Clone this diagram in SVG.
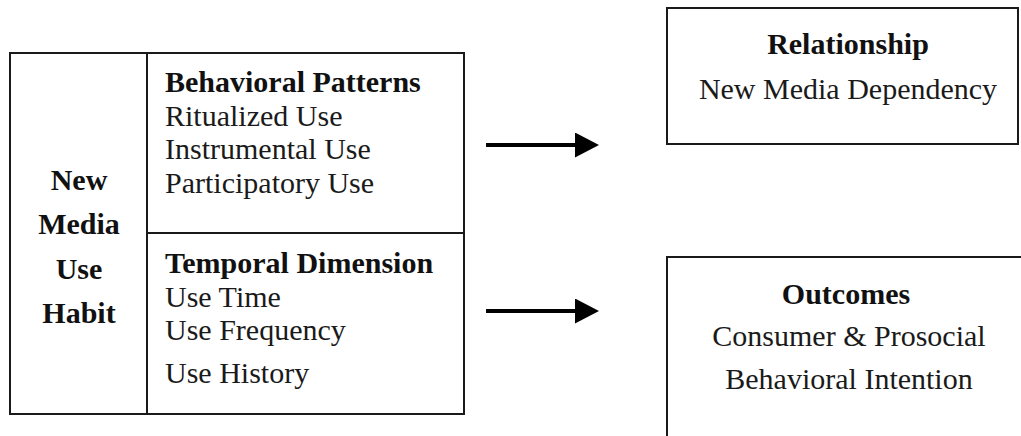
<svg xmlns="http://www.w3.org/2000/svg" width="1021" height="436" viewBox="0 0 1021 436">
  <defs>
    <style>
      .box { fill: #ffffff; stroke: #1a1a1a; stroke-width: 2; }
      .div { stroke: #1a1a1a; stroke-width: 2; fill: none; }
      .t { font-family: "Liberation Serif", "Times New Roman", serif; font-size: 30px; fill: #1a1a1a; }
      .b { font-weight: bold; fill: #111111; }
      .c { text-anchor: middle; }
      .conn { stroke: #000000; stroke-width: 4; fill: none; }
    </style>
    <marker id="arrowhead" markerUnits="userSpaceOnUse" markerWidth="24" markerHeight="25" refX="3" refY="12.5" orient="auto">
      <path d="M0,0 L24,12.5 L0,25 z" fill="#000000"/>
    </marker>
  </defs>
  <rect width="1021" height="436" fill="#ffffff"/>

  <!-- habit construct with its two dimension panels -->
  <g id="habit">
    <rect class="box" x="10" y="53" width="454" height="361"/>
    <line class="div" x1="147" y1="53" x2="147" y2="414"/>
    <line class="div" x1="147" y1="233" x2="464" y2="233"/>
    <text class="t b c" x="79" y="190">New</text>
    <text class="t b c" x="79" y="234">Media</text>
    <text class="t b c" x="79" y="279">Use</text>
    <text class="t b c" x="79" y="323">Habit</text>
  </g>

  <g id="behavioral-patterns">
    <text class="t b" x="165" y="92">Behavioral Patterns</text>
    <text class="t" x="165" y="126">Ritualized Use</text>
    <text class="t" x="165" y="159">Instrumental Use</text>
    <text class="t" x="165" y="193">Participatory Use</text>
  </g>

  <g id="temporal-dimension">
    <text class="t b" x="165" y="273">Temporal Dimension</text>
    <text class="t" x="165" y="307">Use Time</text>
    <text class="t" x="165" y="340">Use Frequency</text>
    <text class="t" x="165" y="383">Use History</text>
  </g>

  <g id="relationship">
    <rect class="box" x="667" y="8" width="351" height="136"/>
    <text class="t b c" x="848" y="54">Relationship</text>
    <text class="t c" x="848" y="99">New Media Dependency</text>
  </g>

  <g id="outcomes">
    <rect class="box" x="667" y="257" width="380" height="200"/>
    <text class="t b c" x="846" y="304">Outcomes</text>
    <text class="t c" x="849" y="346">Consumer &amp; Prosocial</text>
    <text class="t c" x="849" y="389">Behavioral Intention</text>
  </g>

  <g id="connectors">
    <line class="conn" x1="486" y1="145" x2="578" y2="145" marker-end="url(#arrowhead)"/>
    <line class="conn" x1="486" y1="311" x2="578" y2="311" marker-end="url(#arrowhead)"/>
  </g>
</svg>
